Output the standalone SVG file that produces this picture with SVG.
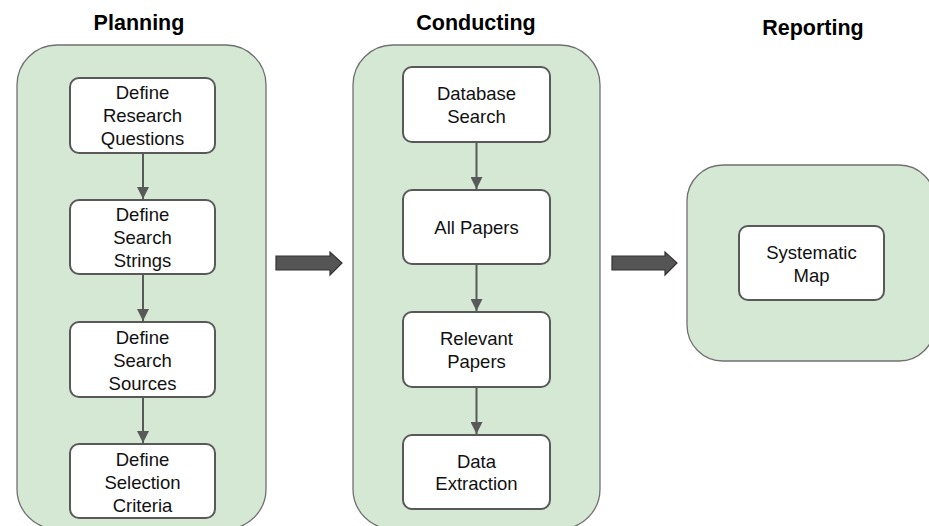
<svg xmlns="http://www.w3.org/2000/svg" width="929" height="526" viewBox="0 0 929 526">
<style>
.cont{fill:#d5e8d4;stroke:#707070;stroke-width:1.3}
.box{fill:#ffffff;stroke:#595959;stroke-width:2}
.t{font-family:"Liberation Sans",Arial,sans-serif;font-size:18.5px;fill:#111;text-anchor:middle}
.h{font-family:"Liberation Sans",Arial,sans-serif;font-size:21.5px;font-weight:bold;fill:#000;text-anchor:middle}
.c{stroke:#595959;stroke-width:2;fill:none}
.big{fill:#555555;stroke:#333333;stroke-width:1.2}
</style>
<defs>
<marker id="ah" markerWidth="12" markerHeight="12" refX="10" refY="5" orient="auto" markerUnits="userSpaceOnUse" viewBox="0 0 10 10">
<path d="M0,0 L10,5 L0,10 z" fill="#595959"/>
</marker>
</defs>
<g id="planning">
<rect class="cont" x="17" y="45" width="249" height="484" rx="40"/>
<text class="h" x="139" y="30">Planning</text>
</g>
<g id="conducting">
<rect class="cont" x="353" y="45" width="247" height="484" rx="40"/>
<text class="h" x="476" y="30">Conducting</text>
</g>
<g id="reporting">
<rect class="cont" x="687" y="165" width="248" height="196" rx="36"/>
<text class="h" x="813" y="35">Reporting</text>
</g>
<g id="rq">
<rect class="box" x="70" y="78" width="145" height="75" rx="9"/>
<text class="t" x="142.5" y="99">Define</text>
<text class="t" x="142.5" y="122">Research</text>
<text class="t" x="142.5" y="145">Questions</text>
</g>
<g id="ss">
<rect class="box" x="70" y="200" width="145" height="74" rx="9"/>
<text class="t" x="142.5" y="221">Define</text>
<text class="t" x="142.5" y="244">Search</text>
<text class="t" x="142.5" y="267">Strings</text>
</g>
<g id="src">
<rect class="box" x="70" y="322" width="145" height="75" rx="9"/>
<text class="t" x="142.5" y="344">Define</text>
<text class="t" x="142.5" y="367">Search</text>
<text class="t" x="142.5" y="390">Sources</text>
</g>
<g id="sel">
<rect class="box" x="70" y="444" width="145" height="74" rx="9"/>
<text class="t" x="142.5" y="466">Define</text>
<text class="t" x="142.5" y="489">Selection</text>
<text class="t" x="142.5" y="512">Criteria</text>
</g>
<g id="db">
<rect class="box" x="403" y="67" width="147" height="75" rx="9"/>
<text class="t" x="476.5" y="100">Database</text>
<text class="t" x="476.5" y="123">Search</text>
</g>
<g id="all">
<rect class="box" x="403" y="190" width="147" height="74" rx="9"/>
<text class="t" x="476.5" y="234">All Papers</text>
</g>
<g id="rel">
<rect class="box" x="403" y="312" width="147" height="75" rx="9"/>
<text class="t" x="476.5" y="345">Relevant</text>
<text class="t" x="476.5" y="368">Papers</text>
</g>
<g id="ext">
<rect class="box" x="403" y="435" width="147" height="74" rx="9"/>
<text class="t" x="476.5" y="468">Data</text>
<text class="t" x="476.5" y="490">Extraction</text>
</g>
<g id="map">
<rect class="box" x="739" y="226" width="145" height="74" rx="9"/>
<text class="t" x="811.5" y="259">Systematic</text>
<text class="t" x="811.5" y="282">Map</text>
</g>
<g id="connectors">
<line class="c" x1="143" y1="153" x2="143" y2="199" marker-end="url(#ah)"/>
<line class="c" x1="143" y1="274" x2="143" y2="321" marker-end="url(#ah)"/>
<line class="c" x1="143" y1="397" x2="143" y2="443" marker-end="url(#ah)"/>
<line class="c" x1="476.5" y1="142" x2="476.5" y2="189" marker-end="url(#ah)"/>
<line class="c" x1="476.5" y1="264" x2="476.5" y2="311" marker-end="url(#ah)"/>
<line class="c" x1="476.5" y1="387" x2="476.5" y2="434" marker-end="url(#ah)"/>
<path class="big" d="M276,256 L330,256 L330,252 L342,263 L330,275 L330,270 L276,270 z"/>
<path class="big" d="M612,256 L665,256 L665,252 L677,263 L665,275 L665,270 L612,270 z"/>
</g>
</svg>
